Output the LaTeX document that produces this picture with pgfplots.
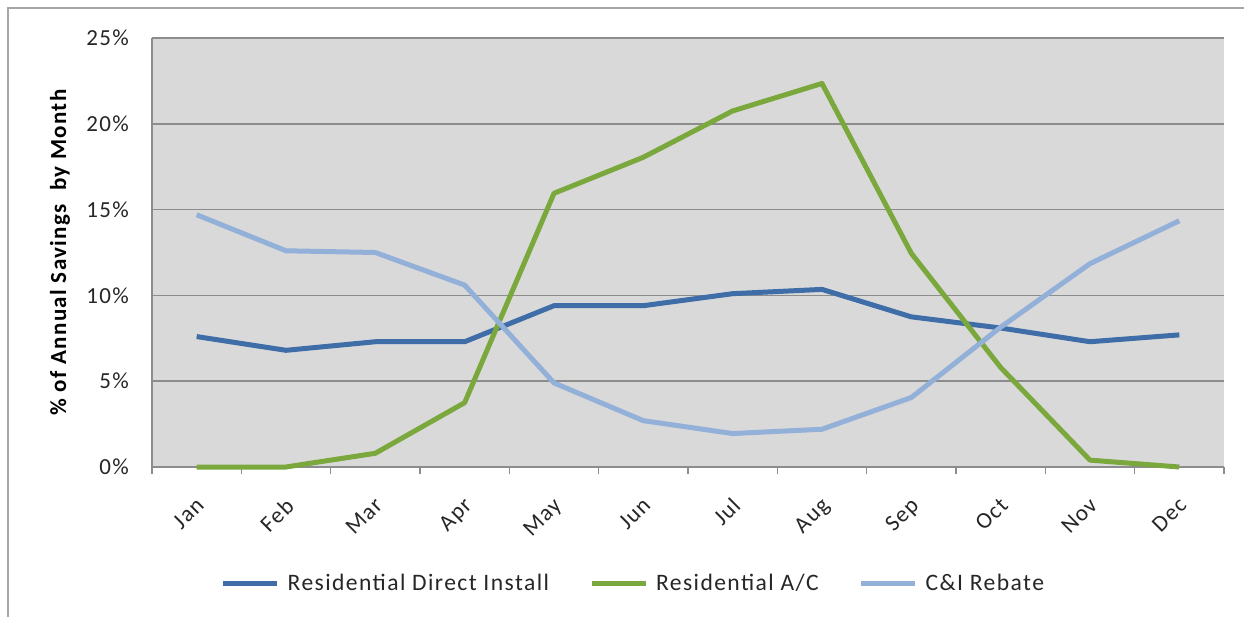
\documentclass[border=0pt]{standalone}
\usepackage{pgfplots}
\pgfplotsset{compat=1.18}
\usepackage{fontspec}
\setmainfont{Carlito}[LetterSpace=6]
\definecolor{diblue}{HTML}{3E6DA8}
\definecolor{acgreen}{HTML}{7BA83C}
\definecolor{cirebate}{HTML}{93B0D9}
\definecolor{plotbg}{HTML}{D9D9D9}
\definecolor{gridgray}{HTML}{8C8C8C}
\definecolor{txt}{HTML}{262626}

\begin{document}
\begin{tikzpicture}[x=0.5pt,y=0.5pt]
  % page area and outer chart frame (top and left edges)
  \useasboundingbox (0,0) rectangle (1244,617);
  \draw[color=black!35,line width=1pt] (7.5,0) -- (7.5,609) -- (1244,609);

  \begin{axis}[
    at={(152pt*0.5,150pt*0.5)}, anchor=south west,
    scale only axis, width=536pt, height=214.5pt,
    xmin=0.5, xmax=12.5, ymin=0, ymax=25,
    axis background/.style={fill=plotbg},
    axis x line*=bottom, axis y line*=left,
    axis line style={draw=gridgray, line width=0.8pt},
    xtick={1,...,12},
    xticklabels={Jan,Feb,Mar,Apr,May,Jun,Jul,Aug,Sep,Oct,Nov,Dec},
    minor xtick={0.5,1.5,...,12.5},
    tick align=outside,
    major tick length=0pt, minor tick length=3.5pt,
    minor tick style={draw=gridgray, line width=0.8pt},
    ytick={0,5,...,25},
    yticklabels={0\%,5\%,10\%,15\%,20\%,25\%},
    ymajorgrids, grid style={draw=gridgray, line width=0.8pt},
    tick label style={font=\fontsize{11.5}{12}\selectfont, text=txt},
    yticklabel style={anchor=east, xshift=-8pt},
    % shifts are in the rotated frame of the label
    xticklabel style={rotate=45, anchor=north east, xshift=-7.5pt, yshift=-6.1pt},
    ylabel={\% of Annual Savings~~by Month},
    ylabel style={at={(axis description cs:-0.0858,0.5)}, anchor=center,
      font=\bfseries\fontsize{11.5}{12}\selectfont, text=black},
    legend columns=3,
    legend style={at={(0.450,-0.272)}, anchor=center, draw=none, fill=none,
      font=\fontsize{11.8}{12}\selectfont, text=txt,
      /tikz/every odd column/.append style={column sep=2pt},
      /tikz/every even column/.append style={column sep=18pt}},
    legend image code/.code={\draw[#1,line width=2.5pt] (0pt,0pt) -- (27pt,0pt);},
    every axis plot/.append style={line width=2.5pt, line join=round},
    clip=false,
  ]
    \addplot[diblue] coordinates {
      (1,7.6) (2,6.8) (3,7.3) (4,7.3) (5,9.4) (6,9.4)
      (7,10.1) (8,10.35) (9,8.75) (10,8.1) (11,7.3) (12,7.7)};
    \addlegendentry{Residential Direct Install}
    \addplot[acgreen] coordinates {
      (1,0) (2,0) (3,0.8) (4,3.75) (5,15.95) (6,18.05)
      (7,20.75) (8,22.35) (9,12.45) (10,5.8) (11,0.4) (12,0)};
    \addlegendentry{Residential A/C}
    \addplot[cirebate] coordinates {
      (1,14.7) (2,12.6) (3,12.5) (4,10.6) (5,4.9) (6,2.7)
      (7,1.95) (8,2.2) (9,4.05) (10,8.15) (11,11.85) (12,14.35)};
    \addlegendentry{C\&I Rebate}
  \end{axis}
\end{tikzpicture}
\end{document}
